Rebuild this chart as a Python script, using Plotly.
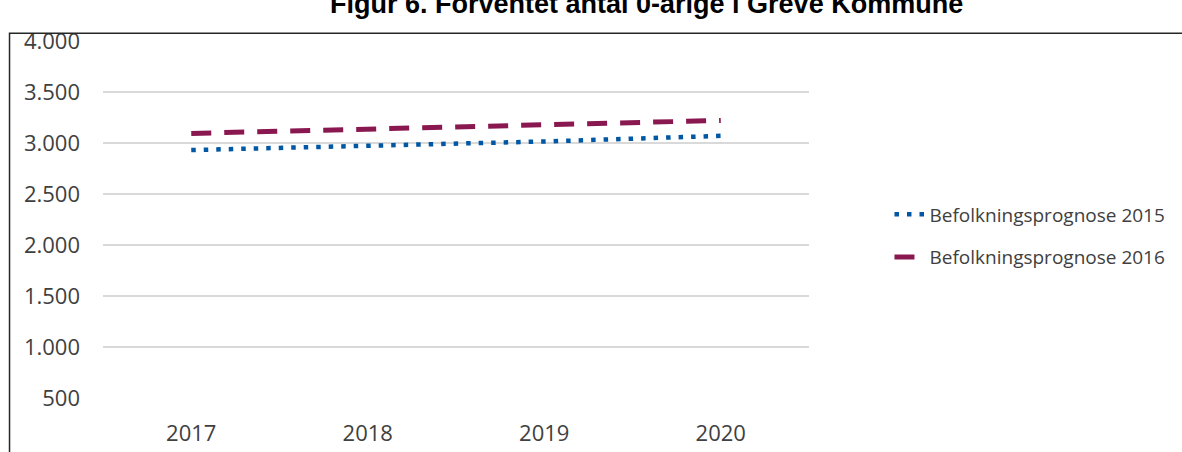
"""
Figur 6: forventet antal 0-årige, to befolkningsprognoser.
"""

import plotly.graph_objects as go

years = ['2017', '2018', '2019', '2020']
prognose_2015 = [2931, 2968, 3015, 3070]
prognose_2016 = [3094, 3140, 3180, 3221]
y_ticks = [500, 1000, 1500, 2000, 2500, 3000, 3500, 4000]

TICK_FONT = dict(family='Open Sans, Lato, sans-serif', size=22, color='#404040')

fig = go.Figure()

fig.add_trace(go.Scatter(
    x=years,
    y=prognose_2015,
    mode='lines',
    name='Befolkningsprognose 2015',
    legendgroup='a',
    line=dict(color='#0057A4', width=4.5, dash='4.5px,8px')
))

fig.add_trace(go.Scatter(
    x=years,
    y=prognose_2016,
    mode='lines',
    name='Befolkningsprognose 2016',
    legendgroup='b',
    line=dict(color='#8A1850', width=5, dash='20px,13px')
))

# Title is partly cut off at the top of the frame
fig.add_annotation(
    text='<b>Figur 6. Forventet antal 0-årige i Greve Kommune</b>',
    xref='paper', yref='paper', x=0.77, y=1.055,
    xanchor='center', yanchor='bottom', showarrow=False,
    font=dict(family='Liberation Sans, Arial, sans-serif', size=27, color='#000000')
)

# Chart border
fig.add_shape(
    type='rect', xref='paper', yref='paper',
    x0=-0.1324, y0=-0.3, x1=2.0, y1=1.0215,
    line=dict(color='#262626', width=1.5), layer='above'
)

fig.update_layout(
    width=1182,
    height=452,
    margin=dict(l=103, r=369, t=41, b=54),
    paper_bgcolor='white',
    plot_bgcolor='white',
    separators=',.',
    showlegend=True,
    legend=dict(
        x=1.114, y=0.454, xanchor='left', yanchor='middle',
        font=dict(family='Open Sans, Lato, sans-serif', size=19, color='#404040'),
        tracegroupgap=15,
        bgcolor='rgba(0,0,0,0)'
    ),
    xaxis=dict(
        type='category',
        range=[-0.5, 3.5],
        showgrid=False,
        showline=False,
        zeroline=False,
        ticks='',
        automargin=False,
        ticklabelstandoff=20,
        tickfont=TICK_FONT
    ),
    yaxis=dict(
        range=[500, 4000],
        tickvals=y_ticks,
        tickformat=',d',
        showgrid=True,
        gridcolor='#D9D9D9',
        gridwidth=1.5,
        showline=False,
        zeroline=False,
        ticks='',
        automargin=False,
        ticklabelstandoff=22,
        tickfont=TICK_FONT
    )
)

# page margin off so the figure sits at the window's top-left corner
fig.write_html("out.html", config={'displayModeBar': False},
               post_script="document.body.style.margin='0';")
